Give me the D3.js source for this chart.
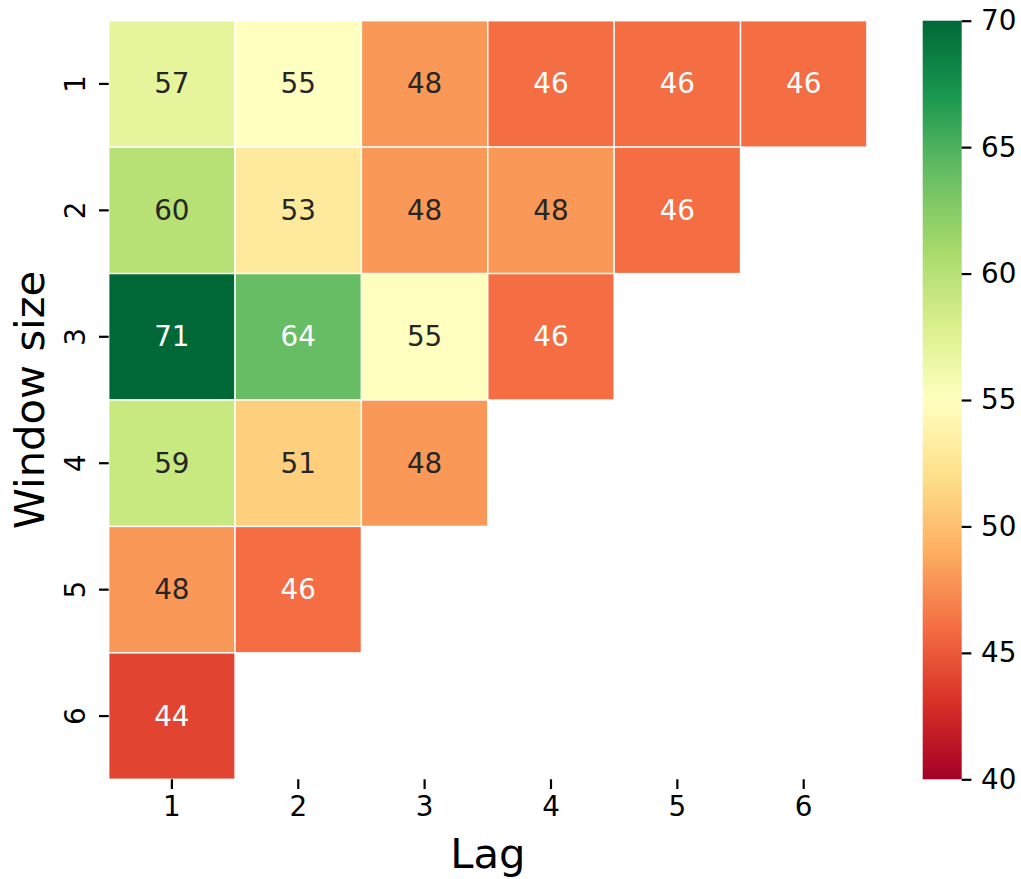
<!DOCTYPE html>
<html>
<head>
<meta charset="utf-8">
<script src="https://cdn.jsdelivr.net/npm/d3@7"></script>
<style>
  html, body { margin: 0; padding: 0; background: #fff; }
  svg { display: block; font-family: "DejaVu Sans", sans-serif; }
</style>
</head>
<body>
<svg id="chart" width="1021" height="879"></svg>
<script>
// ---- data ----
const lags = [1, 2, 3, 4, 5, 6];
const windowSizes = [1, 2, 3, 4, 5, 6];
const row1 = [57, 55, 48, 46, 46, 46];
const row2 = [60, 53, 48, 48, 46, null];
const row3 = [71, 64, 55, 46, null, null];
const row4 = [59, 51, 48, null, null, null];
const row5 = [48, 46, null, null, null, null];
const row6 = [44, null, null, null, null, null];
const values = [row1, row2, row3, row4, row5, row6];
const colorTicks = [40, 45, 50, 55, 60, 65, 70];
const vmin = 40, vmax = 70;

// matplotlib RdYlGn control colours (linear segmented)
const rdylgn = ["#a50026", "#d73027", "#f46d43", "#fdae61", "#fee08b", "#ffffbf",
                "#d9ef8b", "#a6d96a", "#66bd63", "#1a9850", "#006837"];
const cmap = d3.scaleLinear()
  .domain(rdylgn.map((_, i) => vmin + (vmax - vmin) * i / (rdylgn.length - 1)))
  .range(rdylgn)
  .interpolate(d3.interpolateRgb)
  .clamp(true);

const svg = d3.select("#chart");

// ---- layout ----
const pLeft = 108.7, pTop = 20.7, pRight = 866.9, pBottom = 779.3;
const x = d3.scaleBand().domain(lags).range([pLeft, pRight]).padding(0);
const y = d3.scaleBand().domain(windowSizes).range([pTop, pBottom]).padding(0);

const cells = [];
values.forEach((row, i) => row.forEach((v, j) => {
  if (v !== null) cells.push({ w: windowSizes[i], lag: lags[j], v });
}));

function lum(c) {
  const rgb = d3.rgb(c);
  const f = u => { u /= 255; return u <= 0.03928 ? u / 12.92 : Math.pow((u + 0.055) / 1.055, 2.4); };
  return 0.2126 * f(rgb.r) + 0.7152 * f(rgb.g) + 0.0722 * f(rgb.b);
}

const g = svg.append("g");
g.selectAll("rect.cell").data(cells).join("rect")
  .attr("class", "cell")
  .attr("x", d => x(d.lag))
  .attr("y", d => y(d.w))
  .attr("width", x.bandwidth())
  .attr("height", y.bandwidth())
  .attr("fill", d => cmap(d.v))
  .attr("stroke", "#ffffff")
  .attr("stroke-width", 1.4);

g.selectAll("text.annot").data(cells).join("text")
  .attr("class", "annot")
  .attr("x", d => x(d.lag) + x.bandwidth() / 2)
  .attr("y", d => y(d.w) + y.bandwidth() / 2)
  .attr("text-anchor", "middle")
  .attr("dominant-baseline", "central")
  .attr("font-size", 27.8)
  .attr("fill", d => lum(cmap(d.v)) > 0.408 ? "#262626" : "#ffffff")
  .text(d => d3.format(".0f")(d.v));

// ---- x axis ----
const xAxis = d3.axisBottom(x).tickSize(9.7).tickPadding(7);
const xg = svg.append("g").attr("transform", `translate(0,${pBottom})`).call(xAxis);
xg.select(".domain").remove();
xg.selectAll(".tick line").attr("stroke", "#000").attr("stroke-width", 2.2);
xg.selectAll(".tick text").attr("font-size", 27.8).attr("fill", "#000")
  .attr("font-family", "DejaVu Sans");

// ---- y axis ----
const yAxis = d3.axisLeft(y).tickSize(9.7).tickFormat("");
const yg = svg.append("g").attr("transform", `translate(${pLeft},0)`).call(yAxis);
yg.select(".domain").remove();
yg.selectAll(".tick line").attr("stroke", "#000").attr("stroke-width", 2.2);
svg.append("g").selectAll("text").data(windowSizes).join("text")
  .attr("transform", d => `translate(84.7,${y(d) + y.bandwidth() / 2}) rotate(-90)`)
  .attr("text-anchor", "middle")
  .attr("font-size", 27.8)
  .attr("fill", "#000")
  .text(d => d);

// ---- axis titles ----
svg.append("text")
  .attr("x", (pLeft + pRight) / 2).attr("y", 868)
  .attr("text-anchor", "middle").attr("font-size", 41.7).attr("fill", "#000")
  .text("Lag");
svg.append("text")
  .attr("transform", `translate(44.3,${(pTop + pBottom) / 2}) rotate(-90)`)
  .attr("text-anchor", "middle").attr("font-size", 41.7).attr("fill", "#000")
  .text("Window size");

// ---- colorbar ----
const cbX = 922.7, cbW = 39;
const cy = d3.scaleLinear().domain([vmin, vmax]).range([pBottom, pTop]);
const defs = svg.append("defs");
const grad = defs.append("linearGradient").attr("id", "cbgrad")
  .attr("x1", 0).attr("y1", 1).attr("x2", 0).attr("y2", 0);
rdylgn.forEach((c, i) => {
  grad.append("stop").attr("offset", i / (rdylgn.length - 1)).attr("stop-color", c);
});
svg.append("rect")
  .attr("x", cbX).attr("y", pTop).attr("width", cbW).attr("height", pBottom - pTop)
  .attr("fill", "url(#cbgrad)");
const cAxis = d3.axisRight(cy).tickValues(colorTicks).tickSize(9.7).tickPadding(9.7);
const cg = svg.append("g").attr("transform", `translate(${cbX + cbW},0)`).call(cAxis);
cg.select(".domain").remove();
cg.selectAll(".tick line").attr("stroke", "#000").attr("stroke-width", 2.2);
cg.selectAll(".tick text").attr("font-size", 27.8).attr("fill", "#000")
  .attr("font-family", "DejaVu Sans");
</script>
</body>
</html>
